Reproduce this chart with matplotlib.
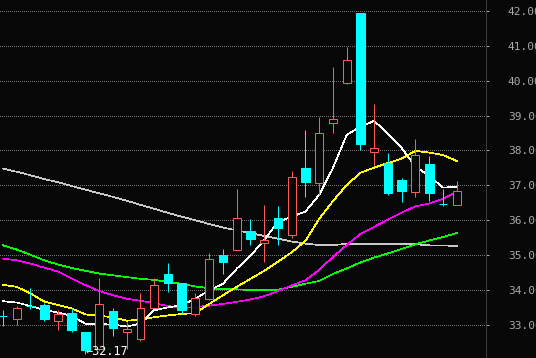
import matplotlib
matplotlib.use('Agg')
from matplotlib import pyplot as plt
import numpy as np

# daily candles, oldest first
opens = [33.24, 33.16, 33.53, 33.57, 33.11, 33.34, 32.79, 32.30, 33.40, 32.79,
         32.59, 33.48, 34.45, 34.20, 33.31, 33.74, 35.00, 35.14, 35.69, 35.34,
         36.07, 35.57, 37.50, 37.08, 38.80, 39.94, 41.94, 37.97, 37.65, 37.16,
         36.82, 37.61, 36.47, 36.43]
highs = [33.44, 33.53, 34.06, 33.62, 33.43, 33.49, 32.79, 34.34, 33.49, 33.09,
         33.91, 34.34, 34.78, 34.20, 33.91, 35.06, 35.18, 36.90, 36.03, 36.44,
         36.41, 37.41, 38.59, 38.95, 40.39, 40.97, 41.94, 39.33, 37.93, 37.22,
         38.33, 37.84, 36.91, 37.13]
lows = [32.98, 33.01, 33.45, 33.11, 32.84, 32.80, 32.17, 32.28, 32.67, 32.30,
        32.55, 33.48, 33.93, 33.35, 33.24, 33.70, 34.46, 35.14, 35.29, 34.81,
        35.30, 35.49, 36.68, 36.73, 38.51, 39.91, 38.00, 37.59, 36.71, 36.51,
        36.68, 36.55, 36.42, 36.43]
closes = [33.24, 33.49, 33.53, 33.16, 33.32, 32.84, 32.29, 33.59, 32.92, 32.88,
          33.48, 34.14, 34.21, 33.43, 33.77, 34.88, 34.81, 36.06, 35.47, 35.44,
          35.79, 37.23, 37.11, 38.49, 38.90, 40.59, 38.19, 38.07, 36.79, 36.84,
          37.87, 36.78, 36.47, 36.83]

# moving averages, also
ma5 = [33.68, 33.64, 33.54, 33.43, 33.35, 33.26, 33.03, 33.02, 33.01, 32.95,
       33.04, 33.42, 33.50, 33.57, 33.75, 33.99, 34.18, 34.61, 34.98, 35.44,
       35.95, 36.10, 36.25, 36.73, 37.50, 38.45, 38.68, 38.85, 38.47, 38.07,
       37.54, 37.27, 36.94, 36.95]
ma10 = [34.15, 34.09, 33.90, 33.67, 33.57, 33.47, 33.30, 33.26, 33.22, 33.12,
        33.15, 33.22, 33.27, 33.31, 33.34, 33.60, 33.85, 34.09, 34.32, 34.55,
        34.81, 35.08, 35.41, 36.04, 36.55, 37.01, 37.36, 37.51, 37.64, 37.77,
        37.99, 37.94, 37.87, 37.70]
ma20 = [34.90, 34.85, 34.76, 34.64, 34.53, 34.33, 34.14, 33.97, 33.85, 33.75,
        33.69, 33.62, 33.54, 33.48, 33.51, 33.55, 33.60, 33.66, 33.73, 33.82,
        33.97, 34.13, 34.28, 34.58, 34.95, 35.29, 35.61, 35.81, 36.02, 36.22,
        36.40, 36.48, 36.61, 36.82]
ma30 = [35.28, 35.16, 35.01, 34.85, 34.73, 34.63, 34.55, 34.47, 34.42, 34.37,
        34.32, 34.29, 34.23, 34.18, 34.10, 34.05, 34.02, 34.02, 34.00, 34.00,
        34.01, 34.09, 34.18, 34.26, 34.46, 34.62, 34.79, 34.93, 35.05, 35.18,
        35.31, 35.42, 35.52, 35.63]
ma60 = [37.48, 37.39, 37.29, 37.18, 37.09, 36.98, 36.88, 36.77, 36.67, 36.56,
        36.44, 36.33, 36.21, 36.10, 36.00, 35.89, 35.79, 35.71, 35.63, 35.55,
        35.47, 35.39, 35.33, 35.29, 35.29, 35.32, 35.31, 35.31, 35.31, 35.31,
        35.31, 35.28, 35.28, 35.26]

price_ticks = [33, 34, 35, 36, 37, 38, 39, 40, 41, 42]
low_label = '\u219032.17'

bg = '#080808'
up_col = '#ff5a5a'
down_col = '#00ffff'
lw = 0.5    # MA lines, aliased -> about one pixel
edge = 0.72  # one pixel at dpi 100

fig = plt.figure(figsize=(5.36, 3.58), dpi=100, facecolor=bg)
ax = fig.add_axes([0, 0, 486 / 536, 1], facecolor=bg)

x = np.arange(len(opens))
o = np.array(opens)
h = np.array(highs)
l = np.array(lows)
c = np.array(closes)
up = c > o

## grid first so everything sits on top of it
for t in price_ticks:
    ax.axhline(t, color='#707070', lw=edge, ls=(0, (1, 2)), zorder=0, antialiased=False)

## moving averages
for ma, col in [(ma60, '#c8c8c8'), (ma30, '#00ff00'), (ma20, '#ff00ff'),
                (ma10, '#ffff00'), (ma5, '#ffffff')]:
    ax.plot(x, ma, color=col, lw=lw, zorder=2, antialiased=False)

## wicks
ax.vlines(x[up], l[up], h[up], color=up_col, lw=edge, zorder=3, snap=True)
ax.vlines(x[~up], l[~up], h[~up], color=down_col, lw=edge, zorder=3, snap=True)

## bodies: red hollow for up days, cyan solid for down days
ax.bar(x[up], c[up] - o[up], bottom=o[up], width=0.58, facecolor=bg,
       edgecolor=up_col, lw=edge, zorder=4, snap=True)
ax.bar(x[~up], c[~up] - o[~up], bottom=o[~up], width=0.64, facecolor=down_col,
       edgecolor=down_col, lw=edge, zorder=4, snap=True)

# lowest low marker
i_low = int(np.argmin(l))
ax.annotate(low_label, (x[i_low], l[i_low]), xytext=(0, 1.5),
            textcoords='offset points', color='white', fontsize=8.5,
            family='DejaVu Sans Mono', ha='left', va='center', zorder=5)

ax.set_xlim(-0.218, 35.13)
ax.set_ylim(32.05, 42.315)

for s in ['top', 'left', 'bottom']:
    ax.spines[s].set_visible(False)
ax.spines['right'].set_color('#3c3c3c')
ax.spines['right'].set_linewidth(edge)

ax.set_xticks([])
ax.yaxis.tick_right()
ax.set_yticks(price_ticks)
ax.set_yticklabels(['%.2f' % t for t in price_ticks])
ax.tick_params(axis='y', colors='#a8a8a8', length=2.2, width=edge, pad=13.5,
               labelsize=8)
for lab in ax.get_yticklabels():
    lab.set_family('DejaVu Sans Mono')

fig.savefig('out.png', dpi=100, facecolor=bg)
